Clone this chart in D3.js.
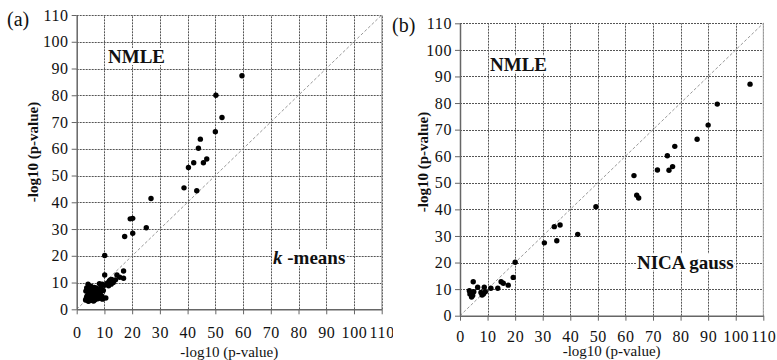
<!DOCTYPE html>
<html>
<head>
<meta charset="utf-8">
<script src="https://cdn.jsdelivr.net/npm/d3@7"></script>
<style>
  body { margin: 0; background: #fff; }
  svg { display: block; }
  text { font-family: "Liberation Serif", "DejaVu Serif", serif; fill: #111; }
</style>
</head>
<body>
<div id="chart"></div>
<script>
// Valeurs des graduations (les deux axes)
const tickValues = [0, 10, 20, 30, 40, 50, 60, 70, 80, 90, 100, 110];

// Panneau (a) : k-means (x) contre NMLE (y)
const kmeansX = [59.6, 50.2, 52.4, 50.0, 44.6, 43.9, 46.9, 45.7, 42.2, 40.3, 38.7, 43.3, 26.8,
  19.3, 20.2, 25.1, 17.3, 20.2, 10.1, 10.1, 16.9, 16.9, 14.5, 15.5, 12.1, 13.0,
  3.2, 3.5, 3.8, 4.0, 4.2, 4.4, 4.6, 4.8, 5.0, 5.1, 5.3, 5.5, 5.7, 5.9, 6.0, 6.2, 6.4, 6.6,
  6.8, 7.0, 7.2, 7.4, 7.6, 7.8, 8.0, 8.3, 8.5, 8.8, 9.0, 9.3, 9.6, 10.0, 10.5, 3.3, 3.6,
  4.1, 3.9, 4.5, 5.2, 5.6, 6.3, 6.9, 7.5, 8.2, 9.2, 11.0, 11.8, 12.6, 11.5, 13.2, 12.4, 14.0,
  4.3, 5.4, 6.1, 3.7, 4.9, 5.8];
const nmleA = [87.3, 80.0, 71.7, 66.4, 63.6, 60.2, 56.2, 54.8, 54.8, 53.0, 45.4, 44.3, 41.4,
  33.8, 34.0, 30.5, 27.2, 28.4, 20.1, 12.8, 14.3, 11.6, 12.8, 12.0, 11.0, 10.5,
  3.5, 4.2, 5.0, 3.2, 6.0, 4.5, 7.2, 3.8, 5.5, 8.6, 4.0, 6.5, 3.3, 5.0, 7.6, 4.4, 6.0, 3.6,
  5.2, 8.0, 4.6, 6.8, 3.9, 5.6, 7.2, 4.2, 6.2, 8.4, 5.0, 3.8, 7.0, 9.0, 4.2, 6.8, 8.0,
  9.4, 7.4, 5.2, 6.8, 4.8, 8.2, 6.6, 7.6, 9.6, 9.4, 9.8, 10.6, 11.2, 8.8, 10.0, 9.4, 11.0,
  3.0, 3.4, 3.1, 4.8, 6.4, 3.9];

// Panneau (b) : NICA gauss (x) contre NMLE (y)
const nicaX = [105.2, 93.3, 90.0, 86.0, 77.9, 75.2, 77.1, 75.8, 71.6, 63.1, 64.1, 64.8, 49.3,
  34.2, 36.3, 42.7, 30.6, 35.1, 20.0, 19.3, 17.5, 14.9, 15.7, 13.7, 11.2, 8.8, 9.2, 7.6,
  8.5, 6.4, 4.8, 3.4, 4.0, 4.6, 4.2, 3.6, 5.0, 8.0];
const nmleB = [87.1, 79.6, 71.7, 66.4, 63.7, 60.2, 56.1, 54.7, 54.8, 52.7, 45.3, 44.3, 41.0,
  33.5, 34.1, 30.6, 27.4, 28.2, 20.1, 14.4, 11.5, 12.8, 12.2, 10.3, 10.3, 10.7, 9.0, 8.7,
  8.2, 10.7, 12.8, 9.4, 8.4, 7.6, 7.0, 8.2, 9.0, 7.8];

const width = 777;
const height = 360;

const svg = d3.select("#chart").append("svg")
  .attr("width", width)
  .attr("height", height);

// Découpe du panneau (a) : le « 110 » est rogné par le panneau (b)
svg.append("clipPath").attr("id", "clipA")
  .append("rect").attr("x", 0).attr("y", 0).attr("width", 393).attr("height", height);

function drawPanel(cfg) {
  const g = svg.append("g");
  if (cfg.clip) g.attr("clip-path", `url(#${cfg.clip})`);

  const x = d3.scaleLinear().domain([0, 110]).range(cfg.xRange);
  const y = d3.scaleLinear().domain([0, 110]).range(cfg.yRange);

  // Grille pointillée
  g.selectAll("line.vgrid")
    .data(tickValues.slice(1))
    .join("line")
    .attr("class", "vgrid")
    .attr("x1", d => Math.round(x(d)) + 0.5).attr("x2", d => Math.round(x(d)) + 0.5)
    .attr("y1", y(0)).attr("y2", y(110))
    .attr("stroke", "#555")
    .attr("stroke-width", 1)
    .attr("stroke-dasharray", "2,1");

  g.selectAll("line.hgrid")
    .data(tickValues.slice(1))
    .join("line")
    .attr("class", "hgrid")
    .attr("x1", x(0)).attr("x2", x(110))
    .attr("y1", d => Math.round(y(d)) + 0.5).attr("y2", d => Math.round(y(d)) + 0.5)
    .attr("stroke", "#555")
    .attr("stroke-width", 1)
    .attr("stroke-dasharray", "2,1");

  // Bordure droite grise
  g.append("line")
    .attr("x1", x(110)).attr("x2", x(110))
    .attr("y1", y(0)).attr("y2", y(110))
    .attr("stroke", "#aaa");

  // Diagonale y = x
  g.append("line")
    .attr("x1", x(0)).attr("y1", y(0))
    .attr("x2", x(110)).attr("y2", y(110))
    .attr("stroke", "#999")
    .attr("stroke-width", 1)
    .attr("stroke-dasharray", "3,2");

  // Axes
  const xAxis = g.append("g")
    .attr("transform", `translate(0,${y(0)})`)
    .call(d3.axisBottom(x).tickValues(tickValues).tickSize(5).tickSizeOuter(0).tickPadding(cfg.xPad));
  const yAxis = g.append("g")
    .attr("transform", `translate(${x(0)},0)`)
    .call(d3.axisLeft(y).tickValues(tickValues).tickSize(5).tickSizeOuter(0).tickPadding(3));

  [xAxis, yAxis].forEach(a => {
    a.attr("font-family", null).attr("font-size", null);
    a.select(".domain").attr("stroke", "#666").attr("stroke-width", 1.5);
    a.selectAll(".tick line").attr("stroke", "#666");
    a.selectAll(".tick text")
      .attr("fill", "#111")
      .style("font-size", "16px")
      .style("letter-spacing", "0.6px");
  });

  // Points
  g.selectAll("circle.pt")
    .data(cfg.xs.map((v, i) => [v, cfg.ys[i]]))
    .join("circle")
    .attr("class", "pt")
    .attr("cx", d => x(d[0]))
    .attr("cy", d => y(d[1]))
    .attr("r", 2.7)
    .attr("fill", "#000");

  // Étiquettes dans le graphique (fond blanc)
  cfg.labels.forEach(l => {
    const t = g.append("text")
      .attr("x", l.x).attr("y", l.y)
      .style("font-size", "19px")
      .style("font-weight", "bold");
    l.parts.forEach(p => {
      t.append("tspan").text(p.text).style("font-style", p.italic ? "italic" : "normal");
    });
    const bb = t.node().getBBox();
    g.insert("rect", () => t.node())
      .attr("x", bb.x - 1).attr("y", bb.y + 2)
      .attr("width", bb.width + 2).attr("height", bb.height - 4)
      .attr("fill", "#fff");
  });

  // Titres des axes
  g.append("text")
    .attr("x", (cfg.xRange[0] + cfg.xRange[1]) / 2)
    .attr("y", cfg.xTitleY)
    .attr("text-anchor", "middle")
    .style("font-size", "15px")
    .text("-log10 (p-value)");

  g.append("text")
    .attr("transform", `translate(${cfg.yTitleX},${cfg.yTitleY}) rotate(-90)`)
    .attr("text-anchor", "middle")
    .style("font-size", "15px")
    .style("font-weight", "bold")
    .text("-log10 (p-value)");

  // Lettre du panneau
  g.append("text")
    .attr("x", cfg.tag.x).attr("y", cfg.tag.y)
    .style("font-size", "20px")
    .text(cfg.tag.text);
}

drawPanel({
  clip: "clipA",
  xRange: [76.7, 381.7],
  yRange: [309.3, 15],
  xs: kmeansX, ys: nmleA,
  xPad: 12.5,
  xTitleY: 357,
  yTitleX: 38, yTitleY: 152,
  tag: { x: 7, y: 26, text: "(a)" },
  labels: [
    { x: 108, y: 63, parts: [{ text: "NMLE" }] },
    { x: 273, y: 264, parts: [{ text: "k", italic: true }, { text: " -means" }] }
  ]
});

drawPanel({
  xRange: [460, 763.3],
  yRange: [315.7, 23.3],
  xs: nicaX, ys: nmleB,
  xPad: 9.5,
  xTitleY: 356,
  yTitleX: 428, yTitleY: 162,
  tag: { x: 392, y: 32, text: "(b)" },
  labels: [
    { x: 490, y: 70.7, parts: [{ text: "NMLE" }] },
    { x: 637, y: 268.5, parts: [{ text: "NICA gauss" }] }
  ]
});
</script>
</body>
</html>
